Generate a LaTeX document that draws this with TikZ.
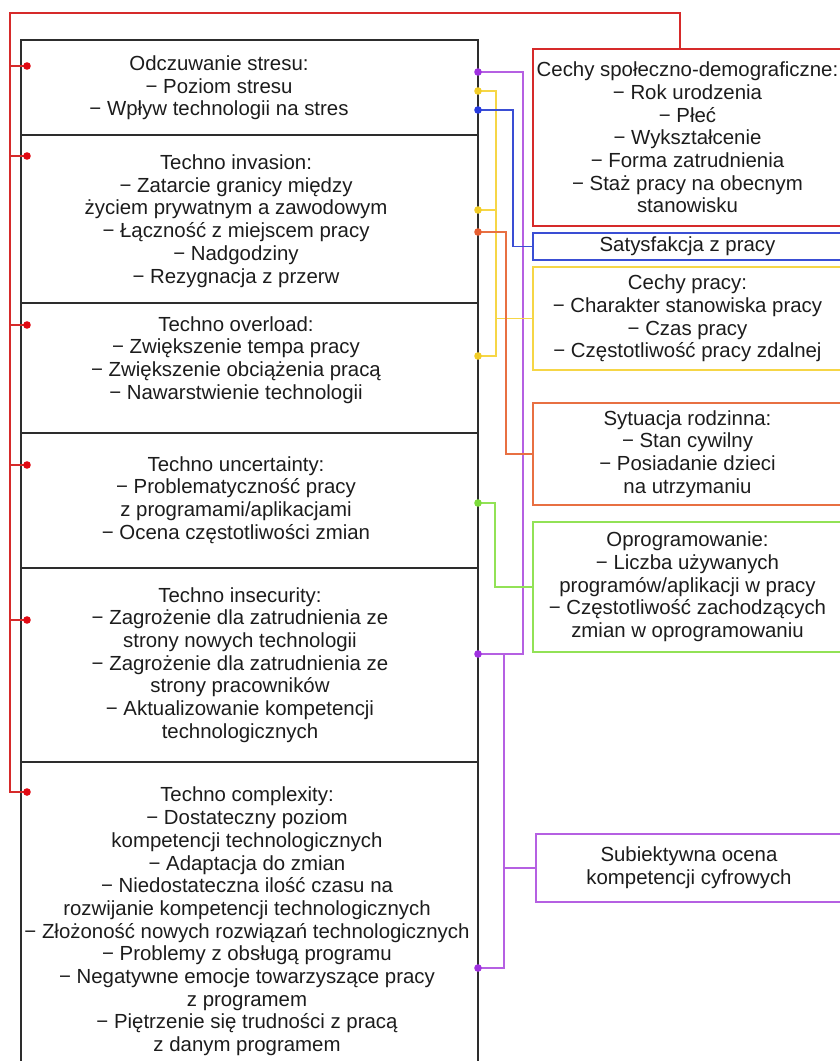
\documentclass[tikz,border=0pt]{standalone}
\usepackage{fontspec}
\setmainfont{Liberation Sans}
\usepackage{xcolor}
\usepackage{tikz}
\usetikzlibrary{calc}
\definecolor{textgray}{RGB}{28,28,28}
\definecolor{framegray}{RGB}{45,45,45}
\definecolor{linkred}{RGB}{214,42,42}
\definecolor{dotred}{RGB}{226,10,20}
\definecolor{linkpurple}{RGB}{181,96,226}
\definecolor{dotpurple}{RGB}{160,50,225}
\definecolor{linkyellow}{RGB}{246,214,70}
\definecolor{dotyellow}{RGB}{242,205,40}
\definecolor{linkblue}{RGB}{58,78,212}
\definecolor{dotblue}{RGB}{40,60,225}
\definecolor{linkorange}{RGB}{232,112,66}
\definecolor{dotorange}{RGB}{232,95,50}
\definecolor{linkgreen}{RGB}{146,226,86}
\definecolor{dotgreen}{RGB}{125,220,60}

\tikzset{
  factorbox/.style={draw=#1, line width=1.6pt, minimum width=309pt, inner sep=0pt,
    align=center, text=textgray, font=\fontsize{20.4}{22.7}\selectfont},
  sectext/.style={align=center, inner sep=0pt, text=textgray, font=\fontsize{20.4}{22.7}\selectfont},
  link/.style={draw=#1, line width=1.6pt},
  secline/.style={draw=framegray, line width=1.6pt}
}

\begin{document}
\begin{tikzpicture}[x=1pt, y=-1pt]
    \useasboundingbox (0,0) rectangle (840,1061);
    \clip (0,0) rectangle (840,1061);

    % Left column: stress dimensions
    \draw[secline] (21,40) rectangle (478,1080);
    \foreach \y in {135,303,433,568,762}
        \draw[secline] (21,\y) -- (478,\y);

    \node[sectext] (stres) at (219,88) {Odczuwanie stresu:\\ − Poziom stresu\\ − Wpływ technologii na stres};
    \node[sectext] (invasion) at (236,221) {Techno invasion:\\ − Zatarcie granicy między\\ życiem prywatnym a zawodowym\\ − Łączność z miejscem pracy\\ − Nadgodziny\\ − Rezygnacja z przerw};
    \node[sectext] (overload) at (236,360) {Techno overload:\\ − Zwiększenie tempa pracy\\ − Zwiększenie obciążenia pracą\\ − Nawarstwienie technologii};
    \node[sectext] (uncertainty) at (236,500) {Techno uncertainty:\\ − Problematyczność pracy\\ z programami/aplikacjami\\ − Ocena częstotliwości zmian};
    \node[sectext] (insecurity) at (240,665) {Techno insecurity:\\ − Zagrożenie dla zatrudnienia ze\\ strony nowych technologii\\ − Zagrożenie dla zatrudnienia ze\\ strony pracowników\\ − Aktualizowanie kompetencji\\ technologicznych};
    \node[sectext] (complexity) at (247,921.5) {Techno complexity:\\ − Dostateczny poziom\\ kompetencji technologicznych\\ − Adaptacja do zmian\\ − Niedostateczna ilość czasu na\\ rozwijanie kompetencji technologicznych\\ − Złożoność nowych rozwiązań technologicznych\\ − Problemy z obsługą programu\\ − Negatywne emocje towarzyszące pracy\\ z programem\\ − Piętrzenie się trudności z pracą\\ z danym programem};

    % Right column: factors
    \node[factorbox=linkred, minimum height=177pt] (cechy) at (687.5,137.5) {Cechy społeczno-demograficzne:\\ − Rok urodzenia\\ − Płeć\\ − Wykształcenie\\ − Forma zatrudnienia\\ − Staż pracy na obecnym\\ stanowisku};
    \node[factorbox=linkblue, minimum height=27pt] (satis) at (687.5,246.5) {Satysfakcja z pracy};
    \node[factorbox=linkyellow, minimum height=103pt] (cpracy) at (687.5,318.5) {Cechy pracy:\\ − Charakter stanowiska pracy\\ − Czas pracy\\ − Częstotliwość pracy zdalnej};
    \node[factorbox=linkorange, minimum height=102pt] (rodz) at (687.5,454) {Sytuacja rodzinna:\\ − Stan cywilny\\ − Posiadanie dzieci\\ na utrzymaniu};
    \node[factorbox=linkgreen, minimum height=130pt] (oprog) at (687.5,587) {Oprogramowanie:\\ − Liczba używanych\\ programów/aplikacji w pracy\\ − Częstotliwość zachodzących\\ zmian w oprogramowaniu};
    \node[factorbox=linkpurple, minimum width=306pt, minimum height=68pt] (subj) at (689,868) {Subiektywna ocena\\ kompetencji cyfrowych};

    % Attachment points
    \foreach \n/\y in {r1/66, r2/156, r3/325, r4/465, r5/620, r6/792}
        \coordinate (\n) at (27,\y);
    \foreach \n/\y in {v1/72, y1/91, b1/110, y2/210, o1/232, y3/356, g1/503, v2/654, v3/968}
        \coordinate (\n) at (478,\y);
    \coordinate (rtop) at (680,13);
    \coordinate (rbus) at (10,0);
    \coordinate (gbus) at (495,0);
    \coordinate (ybus) at (496,0);
    \coordinate (vbustwo) at (504,0);
    \coordinate (obus) at (506,0);
    \coordinate (bbus) at (513,0);
    \coordinate (vbus) at (523,0);

    % Red: socio-demographic
    \draw[link=linkred] (rtop |- cechy.north) -- (rtop) -| (rbus |- r6) -- (r6);
    \foreach \i in {1,...,5}
        \draw[link=linkred] (rbus |- r\i) -- (r\i);

    % Purple: digital competence
    \draw[link=linkpurple] (v1) -| (vbus |- v2) -- (v2);
    \draw[link=linkpurple] (vbustwo |- v2) |- (v3);
    \draw[link=linkpurple] (vbustwo |- subj.west) -- (subj.west);

    % Yellow: work features
    \draw[link=linkyellow] (y1) -| (ybus |- y3) -- (y3);
    \draw[link=linkyellow] (y2) -- (ybus |- y2);
    \draw[link=linkyellow] (ybus |- cpracy.west) -- (cpracy.west);

    % Blue, orange, green
    \draw[link=linkblue] (b1) -| (bbus |- satis.west) -- (satis.west);
    \draw[link=linkorange] (o1) -| (obus |- rodz.west) -- (rodz.west);
    \draw[link=linkgreen] (g1) -| (gbus |- oprog.west) -- (oprog.west);

    % Dots
    \foreach \p in {r1,r2,r3,r4,r5,r6}
        \fill[dotred] (\p) circle (3.8);
    \foreach \p/\c in {v1/dotpurple, y1/dotyellow, b1/dotblue, y2/dotyellow, o1/dotorange,
                       y3/dotyellow, g1/dotgreen, v2/dotpurple, v3/dotpurple}
        \fill[\c] (\p) circle (3.8);
\end{tikzpicture}
\end{document}
